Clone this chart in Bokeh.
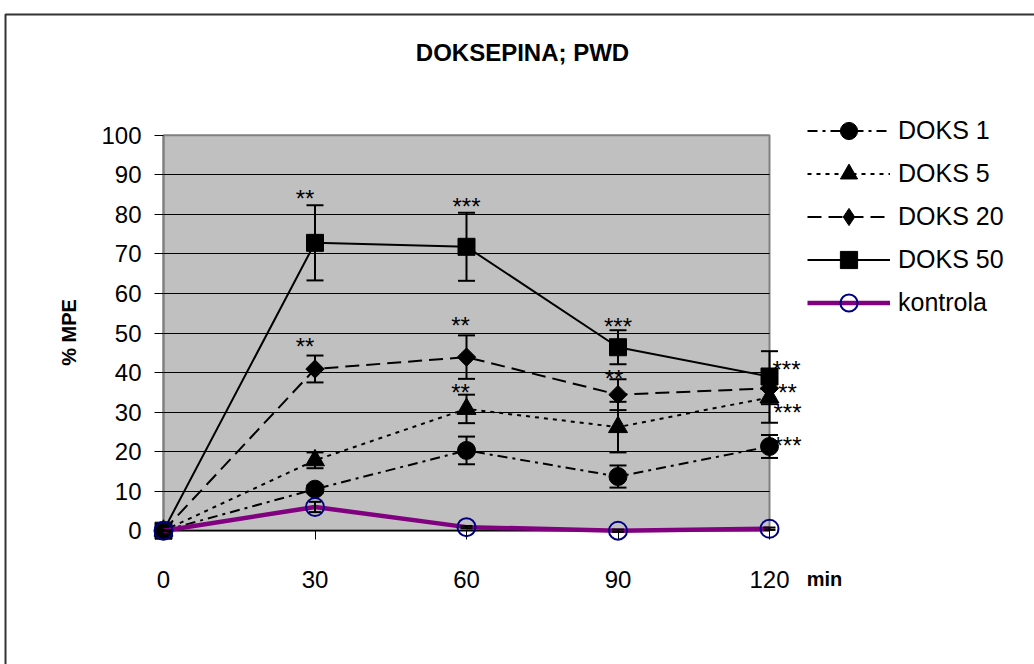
import math

from bokeh.core.properties import value
from bokeh.embed import file_html
from bokeh.models import (BoxAnnotation, ColumnDataSource, FixedTicker, Label,
                          LabelSet, Legend, LegendItem, Range1d, TeeHead, Whisker)
from bokeh.plotting import figure
from bokeh.resources import INLINE

# ---- data: % MPE over time (min) ----
times = [0, 30, 60, 90, 120]

doks1 = [0, 10.5, 20.3, 13.7, 21.3]
doks1_err = [0, 1.0, 3.5, 2.8, 2.9]
doks5 = [0, 17.8, 30.8, 26.2, 33.7]
doks5_err = [0, 2.0, 3.6, 6.4, 6.4]
doks20 = [0, 40.9, 43.9, 34.4, 36.0]
doks20_err = [0, 3.4, 5.5, 3.9, 4.0]
doks50 = [0, 72.8, 71.8, 46.4, 39.0]
doks50_err = [0, 9.5, 8.6, 4.3, 6.4]
kontrola = [0, 6.0, 0.9, 0.0, 0.5]
kontrola_err = [0, 1.3, 0.3, 0.3, 0.3]

series_names = ["DOKS 1", "DOKS 5", "DOKS 20", "DOKS 50"]
series_values = [doks1, doks5, doks20, doks50]
series_errors = [doks1_err, doks5_err, doks20_err, doks50_err]

y_ticks = [0, 10, 20, 30, 40, 50, 60, 70, 80, 90, 100]
x_ticks = [0, 30, 60, 90, 120]

# significance marks: series, time point, text
sig_series = ["DOKS 50", "DOKS 50", "DOKS 50", "DOKS 50",
              "DOKS 20", "DOKS 20", "DOKS 20", "DOKS 20",
              "DOKS 5", "DOKS 5", "DOKS 1"]
sig_time = [30, 60, 90, 120, 30, 60, 90, 120, 60, 120, 120]
sig_text = ["**", "***", "***", "***", "**", "**", "**", "**", "**", "***", "***"]

# ---- page geometry (pixels) ----
W, H = 1034, 664
PX_X0, PX_X120 = 163.0, 769.0
PX_Y0, PX_Y100 = 530.2, 134.8
SX = (PX_X120 - PX_X0) / (x_ticks[-1] - x_ticks[0])
SY = (PX_Y0 - PX_Y100) / (y_ticks[-1] - y_ticks[0])


def px_x(px):
    return (px - PX_X0) / SX


def px_y(py):
    return (PX_Y0 - py) / SY


FONT = "Liberation Sans"

p = figure(width=W, height=H,
           x_range=Range1d(px_x(0), px_x(W)), y_range=Range1d(px_y(H), px_y(0)),
           output_backend="svg", toolbar_location=None)
p.min_border = 0
p.min_border_left = p.min_border_right = p.min_border_top = p.min_border_bottom = 0
p.outline_line_color = None
p.background_fill_color = "white"
p.border_fill_color = "white"

# outer chart border: left and top edges only (the rest lies off the page)
p.line(x=[px_x(5), px_x(5), px_x(W + 40)], y=[px_y(H + 40), px_y(14), px_y(14)],
       line_color="#333333", line_width=2, level="underlay")

# grey plot area
p.add_layout(BoxAnnotation(left=x_ticks[0], right=x_ticks[-1],
                           bottom=y_ticks[0], top=y_ticks[-1],
                           fill_color="#C0C0C0", fill_alpha=1.0,
                           line_color="#808080", line_alpha=1.0, line_width=2,
                           level="image"))

# horizontal grid lines inside the plot area
p.xgrid.visible = False
yg = p.ygrid[0]
if "cross_bounds" in yg.properties():
    yg.ticker = FixedTicker(ticks=y_ticks[1:-1])
    yg.cross_bounds = (x_ticks[0], x_ticks[-1])
    yg.grid_line_color = "black"
    yg.grid_line_width = 1
else:
    yg.visible = False
    inner = y_ticks[1:-1]
    p.segment(x0=[x_ticks[0]] * len(inner), x1=[x_ticks[-1]] * len(inner),
              y0=inner, y1=inner, line_color="black", line_width=1, level="underlay")

# axes crossing at the origin
xa = p.xaxis[0]
ya = p.yaxis[0]
xa.fixed_location = y_ticks[0]
ya.fixed_location = x_ticks[0]
xa.bounds = (x_ticks[0], x_ticks[-1])
ya.bounds = (y_ticks[0], y_ticks[-1])
xa.ticker = FixedTicker(ticks=x_ticks)
ya.ticker = FixedTicker(ticks=y_ticks)
for ax in (xa, ya):
    ax.minor_tick_line_color = None
    ax.major_tick_in = 0
    ax.major_tick_out = 9
    ax.major_tick_line_color = "black"
    ax.major_tick_line_width = 1
    ax.major_label_text_font = FONT
    ax.major_label_text_font_size = "24px"
    ax.major_label_text_color = "black"
    ax.level = "underlay"
xa.axis_line_color = "black"
xa.axis_line_width = 1.5
xa.major_label_standoff = 31
ya.axis_line_color = "#808080"
ya.axis_line_width = 2
ya.major_label_standoff = 13

# ---- series ----
markers = ["circle", "triangle", "square", "square"]
marker_sizes = [18, 19, 13, 17]
marker_angles = [0, 0, math.pi / 4, 0]
legend_markers = ["circle", "triangle", "diamond", "square"]
dashes = ["10 5 3 5", "4 5", "14 7", "solid"]

legend_items = []
for name, ys, errs, mk, ms, ang, lmk, dash in zip(series_names, series_values,
                                                   series_errors, markers, marker_sizes,
                                                   marker_angles, legend_markers, dashes):
    lr = p.line(times, ys, line_color="black", line_width=2, line_dash=dash)
    sr = p.scatter(times, ys, marker=mk, size=ms, angle=ang,
                   fill_color="black", line_color="black")
    src = ColumnDataSource(dict(x=times,
                                upper=[v + e for v, e in zip(ys, errs)],
                                lower=[v - e for v, e in zip(ys, errs)]))
    p.add_layout(Whisker(source=src, base="x", upper="upper", lower="lower",
                         dimension="height", line_color="black", line_width=2,
                         upper_head=TeeHead(size=17, line_width=2, line_color="black"),
                         lower_head=TeeHead(size=17, line_width=2, line_color="black"),
                         level="annotation"))
    if lmk != mk:
        # legend key shape (zero size in the plot itself)
        key = p.scatter(times, ys, marker=lmk, size=0,
                        fill_color="black", line_color="black")
        legend_items.append(LegendItem(label=name, renderers=[lr, key]))
    else:
        legend_items.append(LegendItem(label=name, renderers=[lr, sr]))

klr = p.line(times, kontrola, line_color="#800080", line_width=4.5)
ksr = p.scatter(times, kontrola, marker="circle", size=18, fill_color=None,
                line_color="#000080", line_width=2)
ksrc = ColumnDataSource(dict(x=times,
                             upper=[v + e for v, e in zip(kontrola, kontrola_err)],
                             lower=[v - e for v, e in zip(kontrola, kontrola_err)]))
p.add_layout(Whisker(source=ksrc, base="x", upper="upper", lower="lower",
                     dimension="height", line_color="black", line_width=2,
                     upper_head=TeeHead(size=12, line_width=2, line_color="black"),
                     lower_head=TeeHead(size=12, line_width=2, line_color="black"),
                     level="annotation"))
legend_items.append(LegendItem(label="kontrola", renderers=[klr, ksr]))

# ---- significance asterisks ----
lookup = dict(zip(series_names, series_values))
sig_y = [lookup[s][times.index(t)] for s, t in zip(sig_series, sig_time)]
sig_dx = [-10, 0, 0, 17, -10, -6, -4, 18, -6, 18, 18]
sig_dy = [47, 43, 24, 10, 25, 35, 19, -1, 19, -12, 4]
STAR_SHIFT = 3
sig_src = ColumnDataSource(dict(x=sig_time, y=sig_y, text=sig_text,
                                dx=sig_dx, dy=[d - STAR_SHIFT for d in sig_dy]))
p.add_layout(LabelSet(source=sig_src, x="x", y="y", text="text",
                      x_offset="dx", y_offset="dy",
                      text_align="center", text_baseline="middle",
                      text_font=value(FONT), text_font_size="24px",
                      text_color="black", level="annotation"))

# ---- texts ----
p.add_layout(Label(x=px_x(522), y=px_y(52), text="DOKSEPINA; PWD",
                   text_align="center", text_baseline="middle", text_color="black",
                   text_font=FONT, text_font_size="24px", text_font_style="bold"))
p.add_layout(Label(x=px_x(68), y=px_y(332), text="% MPE", angle=math.pi / 2,
                   text_align="center", text_baseline="middle", text_color="black",
                   text_font=FONT, text_font_size="20px", text_font_style="bold"))
p.add_layout(Label(x=px_x(824), y=px_y(578), text="min",
                   text_align="center", text_baseline="middle", text_color="black",
                   text_font=FONT, text_font_size="20px", text_font_style="bold"))

# ---- legend ----
legend = Legend(items=legend_items, location=(807, 340), orientation="vertical",
                glyph_width=83, glyph_height=43, label_height=25, spacing=0,
                padding=0, margin=0, label_standoff=8,
                label_text_font=FONT, label_text_font_size="25px",
                label_text_color="black", label_text_baseline="middle",
                background_fill_alpha=0, border_line_color=None)
p.add_layout(legend)

open("out.html", "w").write(file_html(p, INLINE))
